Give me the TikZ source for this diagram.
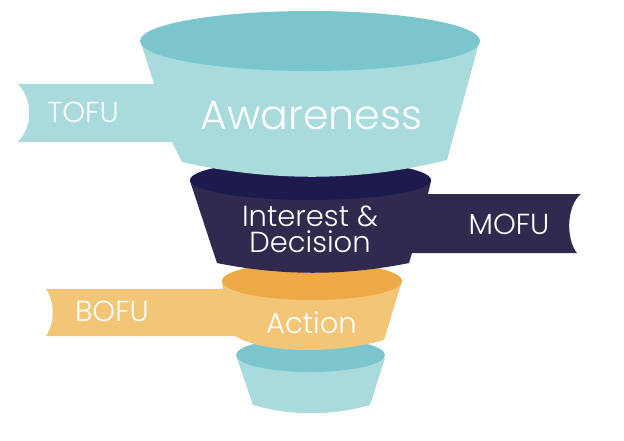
\documentclass[tikz,border=0pt]{standalone}
\usepackage{fontspec}
\setmainfont{Poppins}[UprightFont={* Light}]
\definecolor{tealtop}{HTML}{7AC6CC}
\definecolor{tealbody}{HTML}{A9DADC}
\definecolor{navytop}{HTML}{1D1A4E}
\definecolor{navybody}{HTML}{2F2A4E}
\definecolor{ambertop}{HTML}{EDA946}
\definecolor{amberbody}{HTML}{F3C677}

\begin{document}
\begin{tikzpicture}[x=1pt, y=-1pt,
  stage/.style={text=white, inner sep=0pt, font=\fontsize{29}{26}\selectfont},
  big/.style={stage, font=\fontsize{41}{41}\selectfont}]
\useasboundingbox (0,0) rectangle (624,440);

% bottom cup
\fill[tealbody] (237,358) -- (253,405) .. controls (292,416) and (331,416) .. (370,405) -- (385,358) -- cycle;
\fill[tealtop] (310.5,355) ellipse [x radius=74.5pt, y radius=17pt];

% action cup with BOFU ribbon
\fill[amberbody] (222,284) -- (223,289) -- (46,289) .. controls (55,302) and (55,323) .. (46,336)
  -- (235,336) .. controls (265,354) and (335,354) .. (384,340) -- (401,284) -- cycle;
\fill[ambertop] (312,281) ellipse [x radius=90pt, y radius=19pt];

% interest cup with MOFU ribbon
\fill[navybody] (190,181) -- (217,263) .. controls (281,276) and (345,276) .. (409,263) -- (412,253)
  -- (577,253) .. controls (566,240) and (566,206) .. (581,194) -- (428,194) -- (431,181) -- cycle;
\fill[navytop] (310.5,180) ellipse [x radius=120.5pt, y radius=20pt];

% awareness cup with TOFU ribbon
\fill[tealbody] (141,43) -- (154,84) -- (18,84) .. controls (33,100) and (33,126) .. (18,142)
  -- (172,142) -- (182,162) .. controls (270,182) and (360,182) .. (447,160) -- (479,43) -- cycle;
\fill[tealtop] (310,41) ellipse [x radius=170pt, y radius=30pt];

\node[big, anchor=base] (awareness) at (311.5,129) {Awareness};
\node[stage, anchor=base] (tofu) at (83,122) {TOFU};
\node[stage, align=center, anchor=south] (interest) at (310,253) {Interest \&\\Decision};
\node[stage, anchor=base] (mofu) at (509,234) {MOFU};
\node[stage, anchor=base] (bofu) at (112,321) {BOFU};
\node[stage, anchor=base] (action) at (311.5,333) {Action};
\end{tikzpicture}
\end{document}
